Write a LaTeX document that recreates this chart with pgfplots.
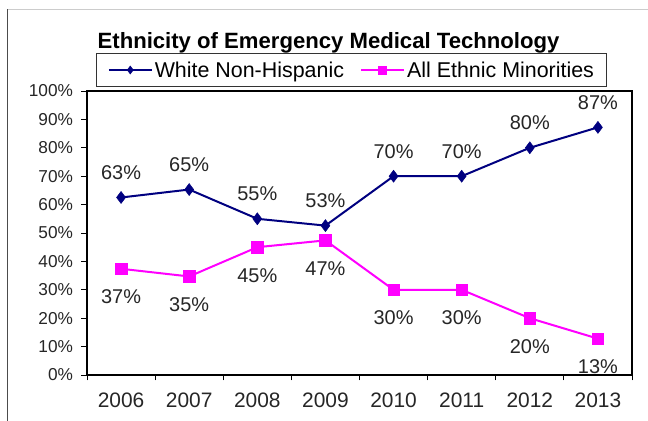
\documentclass[border=0pt]{standalone}
\usepackage{fontspec}
\setmainfont{Liberation Sans}
\usepackage{pgfplots}
\pgfplotsset{compat=1.18}
\definecolor{wnh}{HTML}{000080}
\definecolor{aem}{HTML}{FF00FF}
\begin{document}
\begin{tikzpicture}
\useasboundingbox (0,0) rectangle (648bp,421bp);
\fill[white] (0,0) rectangle (648bp,421bp);
\draw[black!20, line width=0.8bp] (7.4bp,412bp) -- (648bp,412bp);
\draw[black!70, line width=1.3bp] (7.4bp,0) -- (7.4bp,412.4bp);
\begin{axis}[
  at={(87bp,46bp)}, anchor=south west,
  scale only axis, width=545bp, height=284bp,
  xmin=-0.5, xmax=7.5, ymin=0, ymax=100,
  axis line style={line width=1.3bp, black},
  tick style={black, line width=0.9bp},
  tick align=outside, tick pos=left,
  major tick length=5.5bp,
  xtick={-0.5,0.5,...,7.5},
  xticklabels={,,,,,,,,,},
  extra x ticks={0,1,2,3,4,5,6,7},
  extra x tick labels={2006,2007,2008,2009,2010,2011,2012,2013},
  extra x tick style={tick style={draw=none},
    xticklabel style={anchor=center, yshift=-19.5bp}},
  ytick={0,10,...,100},
  yticklabels={0\%,10\%,20\%,30\%,40\%,50\%,60\%,70\%,80\%,90\%,100\%},
  yticklabel style={anchor=east, xshift=-5bp, font=\fontsize{17.3}{20}\selectfont, text=black!85},
  xticklabel style={font=\fontsize{21}{24}\selectfont, text=black!85},
  title={Ethnicity of Emergency Medical Technology},
  title style={font=\bfseries\fontsize{22.2}{25}\selectfont, at={(axis description cs:0.4431,1.128)}, anchor=base},
  legend columns=2,
  legend style={at={(axis description cs:0.486,1.0739)}, anchor=center, draw=black!80, line width=0.9bp,
    font=\fontsize{21.5}{24}\selectfont, inner xsep=11bp, inner ysep=6bp,
    nodes={inner sep=2bp},
    /tikz/every even column/.append style={column sep=14bp}},
  legend image code/.code={\draw[mark repeat=2,mark phase=2,#1,mark size=4bp] plot coordinates {(0bp,0bp) (21.5bp,0bp) (43bp,0bp)};},
]
\addplot[wnh, line width=2bp, mark=diamond*, mark size=6bp,
  mark options={fill=wnh, draw=wnh, line width=0.5bp},
  nodes near coords, point meta=explicit symbolic,
  every node near coord/.append style={anchor=center, yshift=25bp, text=black!85, font=\fontsize{20}{24}\selectfont}]
  coordinates {(0,62.5)[63\%] (1,65.3)[65\%] (2,55)[55\%] (3,52.6)[53\%] (4,70)[70\%] (5,70)[70\%] (6,80)[80\%] (7,87.2)[87\%]};
\addlegendentry{White Non-Hispanic}
\addplot[aem, line width=2bp, mark=square*, mark size=5.8bp,
  mark options={fill=aem, draw=aem, line width=0.5bp},
  nodes near coords, point meta=explicit symbolic,
  every node near coord/.append style={anchor=center, yshift=-28bp, text=black!85, font=\fontsize{20}{24}\selectfont}]
  coordinates {(0,37.4)[37\%] (1,34.7)[35\%] (2,45)[45\%] (3,47.4)[47\%] (4,30)[30\%] (5,30)[30\%] (6,20)[20\%] (7,12.8)[13\%]};
\addlegendentry{All Ethnic Minorities}
\end{axis}
\end{tikzpicture}
\end{document}
